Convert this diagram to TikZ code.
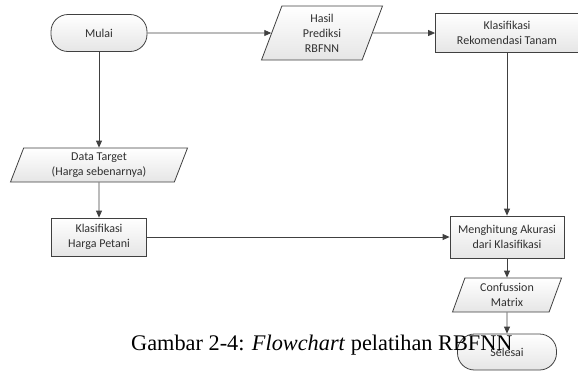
\documentclass[tikz,border=0pt]{standalone}
\usepackage{fontspec}
\setmainfont{Liberation Serif}
\newfontfamily\boxfont{Carlito}
\usetikzlibrary{shapes.geometric,arrows.meta}
\definecolor{linegray}{HTML}{404040}
\definecolor{textgray}{HTML}{303030}
\begin{document}
\begin{tikzpicture}[x=1pt,y=-1pt,
	every node/.style={font=\boxfont\fontsize{12}{15}\selectfont, text=textgray, align=center},
	box/.style={draw=linegray, line width=0.8pt, top color=white, bottom color=gray!20, inner sep=0pt},
	terminal/.style={box, rectangle, rounded corners=17pt},
	process/.style={box, rectangle},
	io/.style={box, trapezium, trapezium left angle=62, trapezium right angle=118, trapezium stretches body},
	flow/.style={draw=linegray, line width=0.8pt, -{Triangle[length=7pt,width=6pt]}}]
	\useasboundingbox (0,0) rectangle (578,376);
	\node [terminal, minimum width=96pt, minimum height=37pt] (mulai) at (99,33) {Mulai};
	\node [io, minimum width=121pt, minimum height=54pt] (hasil) at (322,33) {Hasil\\Prediksi\\RBFNN};
	\node [process, minimum width=143pt, minimum height=39pt] (rekom) at (507,33) {Klasifikasi\\Rekomendasi Tanam};
	\node [io, minimum width=177pt, minimum height=34pt] (target) at (99,165) {Data Target\\(Harga sebenarnya)};
	\node [process, minimum width=95pt, minimum height=38pt] (petani) at (99,237) {Klasifikasi\\Harga Petani};
	\node [process, minimum width=114pt, minimum height=42pt] (akurasi) at (507,237) {Menghitung Akurasi\\dari Klasifikasi};
	\node [io, minimum width=109pt, minimum height=34pt] (matrix) at (507,295) {Confussion\\Matrix};
	\node [terminal, minimum width=99pt, minimum height=36pt] (selesai) at (507,352) {Selesai};
	\draw [flow] (mulai) -- (hasil);
	\draw [flow] (hasil) -- (rekom);
	\draw [flow] (mulai) -- (target);
	\draw [flow] (target) -- (petani);
	\draw [flow] (petani) -- (akurasi);
	\draw [flow] (rekom) -- (akurasi);
	\draw [flow] (akurasi) -- (matrix);
	\draw [flow] (matrix) -- (selesai);
	\node [font=\fontsize{22.3}{26}\selectfont, text=black, anchor=base west, inner sep=0pt] (caption) at (131,350) {Gambar 2-4: \textit{Flowchart} pelatihan RBFNN};
\end{tikzpicture}
\end{document}
